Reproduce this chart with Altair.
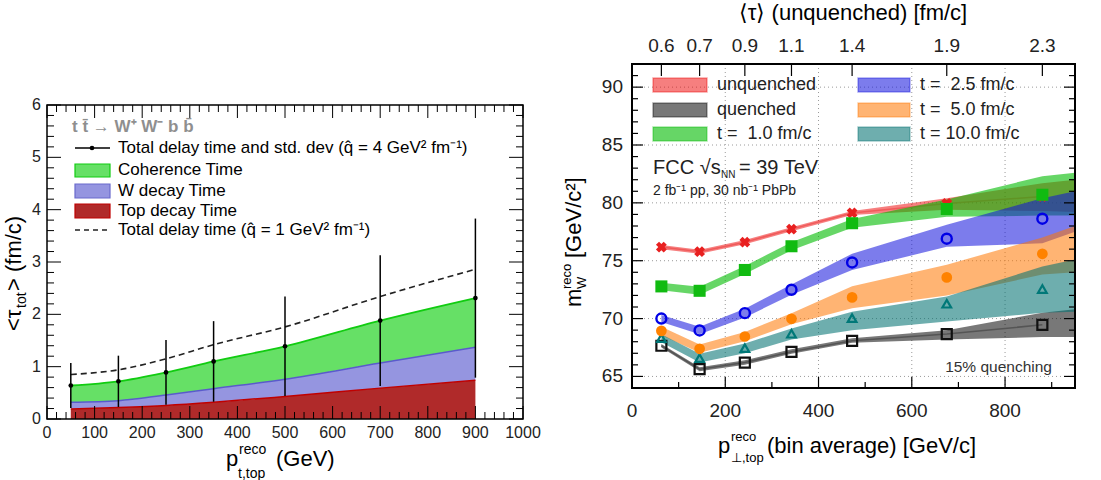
import altair as alt
import pandas as pd

FONT = "Liberation Sans"

# ---------------- left panel data (delay times) ----------------
pt_left = [50, 150, 250, 350, 500, 700, 900]
top_decay = [0.19, 0.22, 0.26, 0.32, 0.43, 0.59, 0.74]          # top edge of red area
top_plus_w = [0.32, 0.35, 0.46, 0.58, 0.76, 1.07, 1.37]         # top edge of blue area
total_delay = [0.64, 0.72, 0.89, 1.10, 1.39, 1.88, 2.31]        # top edge of green area (q=4)
total_std = [0.43, 0.49, 0.62, 0.77, 0.95, 1.25, 1.52]
total_q1 = [0.85, 0.94, 1.15, 1.42, 1.76, 2.34, 2.86]           # dashed (q=1)

# ---------------- right panel data (reconstructed W mass) ----------------
pt_right = [63, 145, 242, 342, 472, 675, 880]
tau_labels = ["0.6", "0.7", "0.9", "1.1", "1.4", "1.9", "2.3"]
band_x = [63, 145, 242, 342, 472, 675, 880, 950]

unq_mid = [76.18, 75.78, 76.60, 77.73, 79.13, 79.95, 80.55]
unq_lo = [76.00, 75.60, 76.42, 77.55, 78.95, 79.40, 79.30, 79.20]
unq_hi = [76.35, 75.95, 76.78, 77.90, 79.30, 80.40, 81.70, 82.00]

que_mid = [67.65, 65.63, 66.20, 67.13, 68.08, 68.66, 69.46]
que_lo = [67.50, 65.45, 66.00, 66.95, 67.90, 68.20, 68.40, 68.40]
que_hi = [67.80, 65.80, 66.40, 67.35, 68.30, 69.00, 70.50, 70.80]

t1_mid = [72.78, 72.40, 74.20, 76.25, 78.24, 79.47, 80.70]
t1_lo = [72.45, 72.05, 73.85, 75.90, 77.85, 78.80, 78.90, 78.90]
t1_hi = [73.10, 72.75, 74.55, 76.60, 78.60, 80.30, 82.30, 82.60]

t25_mid = [70.00, 68.97, 70.47, 72.49, 74.85, 76.90, 78.63]
t25_lo = [69.70, 68.65, 70.10, 72.05, 74.20, 76.20, 76.50, 77.50]
t25_hi = [70.30, 69.30, 70.85, 72.95, 75.60, 78.10, 80.40, 81.00]

t5_mid = [68.94, 67.39, 68.45, 69.98, 71.83, 73.56, 75.60]
t5_lo = [68.55, 67.05, 68.05, 69.50, 70.90, 72.00, 73.80, 74.00]
t5_hi = [69.30, 67.75, 68.85, 70.45, 72.80, 74.65, 77.00, 78.00]

t10_mid = [68.31, 66.58, 67.45, 68.69, 70.04, 71.28, 72.55]
t10_lo = [67.95, 66.20, 67.00, 68.20, 69.00, 69.75, 70.50, 70.60]
t10_hi = [68.65, 66.95, 67.85, 69.15, 70.60, 71.90, 74.50, 75.10]

# ---------------- scales ----------------
LX0, LX1, LY0, LY1 = 47, 523, 419, 105
RX0, RX1, RY0, RY1 = 632, 1075, 388, 64
XL = alt.Scale(domain=[0, 1000], range=[LX0, LX1], nice=False, zero=False)
YL = alt.Scale(domain=[0, 6], range=[LY0, LY1], nice=False, zero=False)
XR = alt.Scale(domain=[0, 950], range=[RX0, RX1], nice=False, zero=False)
YR = alt.Scale(domain=[64, 92], range=[RY0, RY1], nice=False, zero=False)


def X(f, s):
    return alt.X(f, type="quantitative", scale=s, axis=None)


def Y(f, s):
    return alt.Y(f, type="quantitative", scale=s, axis=None)


def one():
    return pd.DataFrame({"t": [""]})


def txt(s, x, y, size, align="left", baseline="alphabetic", angle=0, color="black", weight="normal"):
    return alt.Chart(pd.DataFrame({"t": [s]})).mark_text(
        font=FONT, fontSize=size, align=align, baseline=baseline, angle=angle,
        color=color, fontWeight=weight
    ).encode(text="t:N", x=alt.value(x), y=alt.value(y))


layers = []

# =============== LEFT PANEL ===============
dfL = pd.DataFrame({"x": pt_left, "red": top_decay, "blue": top_plus_w, "green": total_delay,
                    "q1": total_q1, "std": total_std})
dfL["zero"] = 0.0
dfL["lo"] = dfL["green"] - dfL["std"]
dfL["hi"] = dfL["green"] + dfL["std"]

layers.append(alt.Chart(dfL).mark_area(color="#b02a2a", interpolate="monotone").encode(
    x=X("x", XL), y=Y("red", YL), y2=alt.Y2("zero")))
layers.append(alt.Chart(dfL).mark_area(color="#9595e0", interpolate="monotone").encode(
    x=X("x", XL), y=Y("blue", YL), y2=alt.Y2("red")))
layers.append(alt.Chart(dfL).mark_area(color="#66e066", interpolate="monotone").encode(
    x=X("x", XL), y=Y("green", YL), y2=alt.Y2("blue")))
layers.append(alt.Chart(dfL).mark_line(color="#c00000", strokeWidth=1.5, interpolate="monotone").encode(
    x=X("x", XL), y=Y("red", YL)))
layers.append(alt.Chart(dfL).mark_line(color="#5a5acc", strokeWidth=1.5, interpolate="monotone").encode(
    x=X("x", XL), y=Y("blue", YL)))
layers.append(alt.Chart(dfL).mark_line(color="#11cc11", strokeWidth=1.8, interpolate="monotone").encode(
    x=X("x", XL), y=Y("green", YL)))
layers.append(alt.Chart(dfL).mark_line(color="#222222", strokeWidth=1.6, strokeDash=[6, 4],
                                       interpolate="monotone").encode(x=X("x", XL), y=Y("q1", YL)))
layers.append(alt.Chart(dfL).mark_rule(color="black", strokeWidth=1.5).encode(
    x=X("x", XL), y=Y("lo", YL), y2=alt.Y2("hi")))
layers.append(alt.Chart(dfL).mark_point(color="black", filled=True, opacity=1, size=22).encode(
    x=X("x", XL), y=Y("green", YL)))

# frame
frL = pd.DataFrame({"x0": [0], "x1": [1000], "y0": [0], "y1": [6]})
layers.append(alt.Chart(frL).mark_rect(fillOpacity=0, stroke="black", strokeWidth=1.5).encode(
    x=X("x0", XL), x2=alt.X2("x1"), y=Y("y0", YL), y2=alt.Y2("y1")))

# ticks (inward, all four sides)
xmajL = pd.DataFrame({"v": list(range(0, 1001, 100))})
xminL = pd.DataFrame({"v": [v for v in range(0, 1001, 20) if v % 100]})
ymajL = pd.DataFrame({"v": [float(v) for v in range(0, 7)]})
yminL = pd.DataFrame({"v": [i * 0.2 for i in range(31) if i % 5]})
for d, ln in ((xmajL, 13), (xminL, 7)):
    layers.append(alt.Chart(d).mark_rule(color="black", strokeWidth=1).encode(
        x=X("v", XL), y=alt.value(LY0), y2=alt.value(LY0 - ln)))
    layers.append(alt.Chart(d).mark_rule(color="black", strokeWidth=1).encode(
        x=X("v", XL), y=alt.value(LY1), y2=alt.value(LY1 + ln)))
for d, ln in ((ymajL, 14), (yminL, 7)):
    layers.append(alt.Chart(d).mark_rule(color="black", strokeWidth=1).encode(
        y=Y("v", YL), x=alt.value(LX0), x2=alt.value(LX0 + ln)))
    layers.append(alt.Chart(d).mark_rule(color="black", strokeWidth=1).encode(
        y=Y("v", YL), x=alt.value(LX1), x2=alt.value(LX1 - ln)))

# tick labels
xlabL = pd.DataFrame({"v": list(range(0, 1001, 100)), "t": [str(v) for v in range(0, 1001, 100)]})
ylabL = pd.DataFrame({"v": [float(v) for v in range(0, 7)], "t": [str(v) for v in range(0, 7)]})
layers.append(alt.Chart(xlabL).mark_text(font=FONT, fontSize=16, align="center", baseline="alphabetic",
                                         color="#222").encode(
    x=X("v", XL), y=alt.value(438), text="t:N"))
layers.append(alt.Chart(ylabL).mark_text(font=FONT, fontSize=16, align="right", baseline="middle",
                                         color="#222").encode(
    y=Y("v", YL), x=alt.value(41), text="t:N"))

# axis titles
layers.append(txt("p", 226, 466, 22))
layers.append(txt("reco", 239, 454, 14))
layers.append(txt("t,top", 238, 478, 14))
layers.append(txt("(GeV)", 276, 466, 22))
layers.append(txt("<τ", 21, 331, 22, angle=270))
layers.append(txt("tot", 26, 308, 14, angle=270))
layers.append(txt("> (fm/c)", 21, 291, 22, angle=270))

# legend
layers.append(txt("t t\u0304 \u2192 W\u207a W\u207b b b\u0304", 72, 132, 17, color="#8f8f8f", weight="bold"))
layers.append(alt.Chart(one()).mark_rule(color="black", strokeWidth=1.5).encode(
    x=alt.value(75), x2=alt.value(110), y=alt.value(148)))
layers.append(alt.Chart(one()).mark_point(color="black", filled=True, opacity=1, size=22).encode(
    x=alt.value(92), y=alt.value(148)))
layers.append(alt.Chart(one()).mark_rect(fill="#66e066", stroke="#11cc11", strokeWidth=1.2).encode(
    x=alt.value(75), x2=alt.value(110), y=alt.value(164), y2=alt.value(177)))
layers.append(alt.Chart(one()).mark_rect(fill="#9595e0", stroke="#6a6acc", strokeWidth=1.2).encode(
    x=alt.value(75), x2=alt.value(110), y=alt.value(184), y2=alt.value(198)))
layers.append(alt.Chart(one()).mark_rect(fill="#b02a2a", stroke="#c00000", strokeWidth=1.2).encode(
    x=alt.value(75), x2=alt.value(110), y=alt.value(204), y2=alt.value(218)))
layers.append(alt.Chart(one()).mark_rule(color="#222", strokeWidth=1.6, strokeDash=[5, 4]).encode(
    x=alt.value(75), x2=alt.value(110), y=alt.value(230)))
layers.append(txt("Total delay time and std. dev (q\u0302 = 4 GeV\u00b2 fm\u207b\u00b9)", 118, 148, 17,
                  baseline="middle"))
layers.append(txt("Coherence Time", 118, 170, 17, baseline="middle"))
layers.append(txt("W decay Time", 118, 191, 17, baseline="middle"))
layers.append(txt("Top decay Time", 118, 211, 17, baseline="middle"))
layers.append(txt("Total delay time (q\u0302 = 1 GeV\u00b2 fm\u207b\u00b9)", 118, 230, 17, baseline="middle"))

# =============== RIGHT PANEL ===============
# gridlines
layers.append(alt.Chart(pd.DataFrame({"v": [200, 400, 600, 800]})).mark_rule(
    color="#9a9a9a", strokeWidth=1, strokeDash=[1, 3]).encode(
    x=X("v", XR), y=alt.value(RY1), y2=alt.value(RY0)))
layers.append(alt.Chart(pd.DataFrame({"v": [65.0, 70.0, 75.0, 80.0, 85.0, 90.0]})).mark_rule(
    color="#9a9a9a", strokeWidth=1, strokeDash=[1, 3]).encode(
    y=Y("v", YR), x=alt.value(RX0), x2=alt.value(RX1)))


def band(lo, hi, col, op):
    d = pd.DataFrame({"x": band_x, "lo": lo, "hi": hi})
    return alt.Chart(d).mark_area(color=col, fillOpacity=op).encode(
        x=X("x", XR), y=Y("lo", YR), y2=alt.Y2("hi"))


def mid_line(vals, col):
    return alt.Chart(pd.DataFrame({"x": pt_right, "y": vals})).mark_line(
        color=col, strokeWidth=1.5).encode(x=X("x", XR), y=Y("y", YR))


layers.append(band(que_lo, que_hi, "#000000", 0.53))
layers.append(mid_line(que_mid, "#555555"))
layers.append(band(unq_lo, unq_hi, "#ee0000", 0.5))
layers.append(mid_line(unq_mid, "#f05a5a"))
layers.append(band(t1_lo, t1_hi, "#00bb00", 0.6))
layers.append(band(t25_lo, t25_hi, "#1010dd", 0.55))
layers.append(band(t5_lo, t5_hi, "#ff7700", 0.55))
layers.append(band(t10_lo, t10_hi, "#007070", 0.57))


# markers
def pts(vals, **kw):
    return alt.Chart(pd.DataFrame({"x": pt_right, "y": vals})).mark_point(opacity=1, **kw).encode(
        x=X("x", XR), y=Y("y", YR))


layers.append(pts(unq_mid, shape="cross", angle=45, filled=True, color="#e82020", size=120))
layers.append(pts(que_mid, shape="square", filled=False, color="#111111", strokeWidth=2.2, size=100))
layers.append(pts(t10_mid, shape="triangle-up", filled=False, color="#007878", strokeWidth=2.2, size=75))
layers.append(pts(t5_mid, shape="circle", filled=True, color="#ff8200", size=115))
layers.append(pts(t25_mid, shape="circle", filled=False, color="#0000e6", strokeWidth=2.4, size=100))
layers.append(pts(t1_mid, shape="square", filled=True, color="#11bb11", size=145))

# frame
frR = pd.DataFrame({"x0": [0], "x1": [950], "y0": [64], "y1": [92]})
layers.append(alt.Chart(frR).mark_rect(fillOpacity=0, stroke="black", strokeWidth=2).encode(
    x=X("x0", XR), x2=alt.X2("x1"), y=Y("y0", YR), y2=alt.Y2("y1")))

# ticks
xmajR = pd.DataFrame({"v": [0, 200, 400, 600, 800]})
xminR = pd.DataFrame({"v": [100, 300, 500, 700, 900]})
ymajR = pd.DataFrame({"v": [65.0, 70.0, 75.0, 80.0, 85.0, 90.0]})
yminR = pd.DataFrame({"v": [float(v) for v in range(64, 93) if v % 5]})
for d, ln in ((xmajR, 11), (xminR, 6)):
    layers.append(alt.Chart(d).mark_rule(color="black", strokeWidth=1.2).encode(
        x=X("v", XR), y=alt.value(RY0), y2=alt.value(RY0 - ln)))
for d, ln in ((ymajR, 11), (yminR, 6)):
    layers.append(alt.Chart(d).mark_rule(color="black", strokeWidth=1.2).encode(
        y=Y("v", YR), x=alt.value(RX0), x2=alt.value(RX0 + ln)))
    layers.append(alt.Chart(d).mark_rule(color="black", strokeWidth=1.2).encode(
        y=Y("v", YR), x=alt.value(RX1), x2=alt.value(RX1 - ln)))
layers.append(alt.Chart(pd.DataFrame({"v": pt_right})).mark_rule(color="black", strokeWidth=1.2).encode(
    x=X("v", XR), y=alt.value(RY1), y2=alt.value(RY1 + 12)))

# tick labels
xlabR = pd.DataFrame({"v": [0, 200, 400, 600, 800], "t": ["0", "200", "400", "600", "800"]})
ylabR = pd.DataFrame({"v": [65.0, 70.0, 75.0, 80.0, 85.0, 90.0], "t": ["65", "70", "75", "80", "85", "90"]})
toplab = pd.DataFrame({"v": pt_right, "t": tau_labels})
layers.append(alt.Chart(xlabR).mark_text(font=FONT, fontSize=19, align="center", baseline="alphabetic",
                                         color="#222").encode(x=X("v", XR), y=alt.value(417), text="t:N"))
layers.append(alt.Chart(ylabR).mark_text(font=FONT, fontSize=19, align="right", baseline="middle",
                                         color="#222").encode(y=Y("v", YR), x=alt.value(623), text="t:N"))
layers.append(alt.Chart(toplab).mark_text(font=FONT, fontSize=19, align="center", baseline="alphabetic",
                                          color="#222").encode(x=X("v", XR), y=alt.value(52), text="t:N"))

# titles
layers.append(txt("\u27e8\u03c4\u27e9 (unquenched) [fm/c]", 853, 20, 22, align="center"))
layers.append(txt("p", 718, 453, 22))
layers.append(txt("reco", 731, 441, 13))
layers.append(txt("\u22a5,top", 731, 462, 13))
layers.append(txt("(bin average) [GeV/c]", 767, 453, 22))
layers.append(txt("m", 581, 307, 22, angle=270))
layers.append(txt("reco", 571, 289, 13, angle=270))
layers.append(txt("W", 586, 289, 13, angle=270))
layers.append(txt("[GeV/c\u00b2]", 581, 258, 22, angle=270))

# legend
leg = [
    ("unquenched", "#ee0000", 0.5, 653, 707, 717, 85),
    ("quenched", "#000000", 0.53, 653, 707, 717, 110),
    ("t =\u00a0 1.0 fm/c", "#00bb00", 0.6, 653, 707, 717, 134),
    ("t =\u00a0 2.5 fm/c", "#1010dd", 0.55, 858, 910, 920, 85),
    ("t =\u00a0 5.0 fm/c", "#ff7700", 0.55, 858, 910, 920, 110),
    ("t = 10.0 fm/c", "#007070", 0.57, 858, 910, 920, 134),
]
for lab, col, op, x0, x1, tx, yc in leg:
    layers.append(alt.Chart(one()).mark_rect(fill=col, fillOpacity=op, stroke=col, strokeOpacity=0.35,
                                             strokeWidth=1.5).encode(
        x=alt.value(x0), x2=alt.value(x1), y=alt.value(yc - 7), y2=alt.value(yc + 7)))
    layers.append(txt(lab, tx, yc, 18, baseline="middle", color="#222"))

layers.append(txt("FCC \u221as", 653, 174, 20, color="#222"))
layers.append(txt("NN", 721, 178, 10, color="#222"))
layers.append(txt("= 39 TeV", 739, 174, 20, color="#222"))
layers.append(txt("2 fb\u207b\u00b9 pp, 30 nb\u207b\u00b9 PbPb", 653, 195, 14, color="#222"))
layers.append(txt("15% quenching", 1052, 372, 15.5, align="right", color="#333"))

chart = alt.layer(*layers).resolve_scale(x="independent", y="independent").properties(
    width=1101, height=480, autosize=alt.AutoSizeParams(type="none"), padding=0, background="white"
).configure_view(strokeWidth=0)

chart.save("out.html", embed_options={"renderer": "svg", "actions": False})
